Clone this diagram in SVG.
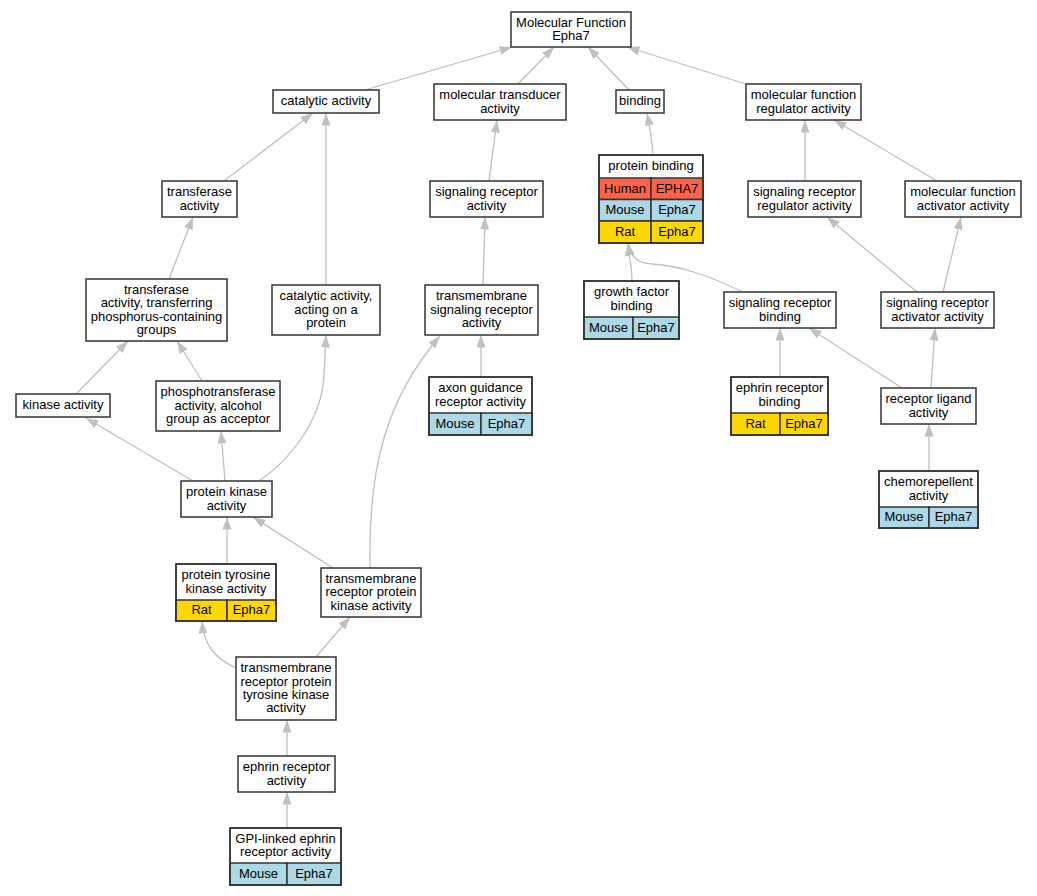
<svg xmlns="http://www.w3.org/2000/svg" width="1037" height="896" viewBox="0 0 1037 896">
<style>
.bx{fill:#fff;stroke:#333;stroke-width:1.5}
.ol{fill:none;stroke:#333;stroke-width:1.5}
.hu{fill:#ff6347;stroke:#333;stroke-width:1.5}
.mo{fill:#add8e6;stroke:#333;stroke-width:1.5}
.ra{fill:#ffd700;stroke:#333;stroke-width:1.5}
text{font-family:"Liberation Sans",Arial,sans-serif;font-size:13px;text-anchor:middle;fill:#000}
#edges path{fill:none;stroke:#c0c0c0;stroke-width:1.3;marker-end:url(#a)}
</style>
<defs>
<marker id="a" viewBox="0 0 12.5 9" refX="12.5" refY="4.5" markerWidth="12.5" markerHeight="9" markerUnits="userSpaceOnUse" orient="auto"><path d="M0,0 L12.5,4.5 L0,9 z" fill="#c0c0c0"/></marker>
</defs>
<rect width="1037" height="896" fill="#fff"/>
<g id="edges">
<path d="M365,90 L512,47"/>
<path d="M518,84 L554,47"/>
<path d="M629,90 L588,47"/>
<path d="M746,84 L627,47"/>
<path d="M224,181 L313,113"/>
<path d="M326,285 L326,113"/>
<path d="M489,181 L497,120"/>
<path d="M653,155 C652,140 650,128 647,113"/>
<path d="M805,181 L805,120"/>
<path d="M937,181 L834,120"/>
<path d="M169,279 L193,217"/>
<path d="M483,285 L485,217"/>
<path d="M632,281 C632,270 630,262 628,243"/>
<path d="M743,292 C705,274 680,266 652,264 C638,263 631,258 628,243"/>
<path d="M917,292 L827,217"/>
<path d="M943,292 L961,217"/>
<path d="M76,394 L128,341"/>
<path d="M202,381 L177,341"/>
<path d="M193,481 L86,418"/>
<path d="M225,481 L221,431"/>
<path d="M259,481 C290,460 322,420 324,375 L326,335"/>
<path d="M370,568 C368,470 385,400 440,336"/>
<path d="M481,377 L481,335"/>
<path d="M780,377 L780,328"/>
<path d="M902,388 L809,328"/>
<path d="M931,388 L935,328"/>
<path d="M929,471 L929,424"/>
<path d="M227,564 L227,517"/>
<path d="M333,568 L253,517"/>
<path d="M236,668 C214,658 204,645 202,621"/>
<path d="M316,657 L350,617"/>
<path d="M287,756 L287,720"/>
<path d="M287,828 L287,792"/>
</g>
<g id="n1"><rect class="bx" x="511" y="12" width="120" height="35"/><text x="571" y="26.6">Molecular Function</text><text x="571" y="40">Epha7</text></g>
<g id="n2"><rect class="bx" x="273" y="90" width="106" height="23"/><text x="326" y="105.3">catalytic activity</text></g>
<g id="n3"><rect class="bx" x="434" y="84" width="132" height="36"/><text x="500" y="99.1">molecular transducer</text><text x="500" y="112.5">activity</text></g>
<g id="n4"><rect class="bx" x="616" y="90" width="48" height="23"/><text x="640" y="105.3">binding</text></g>
<g id="n5"><rect class="bx" x="746" y="84" width="115" height="36"/><text x="803.5" y="99.1">molecular function</text><text x="803.5" y="112.5">regulator activity</text></g>
<g id="n6"><rect class="bx" x="162" y="181" width="75" height="36"/><text x="199.5" y="196.1">transferase</text><text x="199.5" y="209.5">activity</text></g>
<g id="n7"><rect class="bx" x="430" y="181" width="113" height="36"/><text x="486.5" y="196.1">signaling receptor</text><text x="486.5" y="209.5">activity</text></g>
<g id="n8"><rect class="bx" x="599" y="155" width="104" height="88"/><rect class="hu" x="599" y="178" width="52" height="21.5"/><rect class="hu" x="651" y="178" width="52" height="21.5"/><rect class="mo" x="599" y="199.5" width="52" height="21.5"/><rect class="mo" x="651" y="199.5" width="52" height="21.5"/><rect class="ra" x="599" y="221" width="52" height="22"/><rect class="ra" x="651" y="221" width="52" height="22"/><rect class="ol" x="599" y="155" width="104" height="88"/><text x="651" y="170.3">protein binding</text><text x="625" y="192.5">Human</text><text x="677" y="192.5">EPHA7</text><text x="625" y="214">Mouse</text><text x="677" y="214">Epha7</text><text x="625" y="235.8">Rat</text><text x="677" y="235.8">Epha7</text></g>
<g id="n9"><rect class="bx" x="748" y="181" width="113" height="36"/><text x="804.5" y="196.1">signaling receptor</text><text x="804.5" y="209.5">regulator activity</text></g>
<g id="n10"><rect class="bx" x="905" y="181" width="116" height="36"/><text x="963" y="196.1">molecular function</text><text x="963" y="209.5">activator activity</text></g>
<g id="n11"><rect class="bx" x="86" y="279" width="141" height="62"/><text x="156.5" y="293.7">transferase</text><text x="156.5" y="307.1">activity, transferring</text><text x="156.5" y="320.5">phosphorus-containing</text><text x="156.5" y="333.9">groups</text></g>
<g id="n12"><rect class="bx" x="272" y="285" width="108" height="50"/><text x="326" y="300.4">catalytic activity,</text><text x="326" y="313.8">acting on a</text><text x="326" y="327.2">protein</text></g>
<g id="n13"><rect class="bx" x="425" y="285" width="113" height="50"/><text x="481.5" y="300.4">transmembrane</text><text x="481.5" y="313.8">signaling receptor</text><text x="481.5" y="327.2">activity</text></g>
<g id="n14"><rect class="bx" x="584" y="281" width="95" height="58"/><rect class="mo" x="584" y="317" width="49" height="22"/><rect class="mo" x="633" y="317" width="46" height="22"/><rect class="ol" x="584" y="281" width="95" height="58"/><text x="631.5" y="296.1">growth factor</text><text x="631.5" y="309.5">binding</text><text x="608.5" y="331.8">Mouse</text><text x="656" y="331.8">Epha7</text></g>
<g id="n15"><rect class="bx" x="724" y="292" width="112" height="36"/><text x="780" y="307.1">signaling receptor</text><text x="780" y="320.5">binding</text></g>
<g id="n16"><rect class="bx" x="881" y="292" width="113" height="36"/><text x="937.5" y="307.1">signaling receptor</text><text x="937.5" y="320.5">activator activity</text></g>
<g id="n17"><rect class="bx" x="16" y="394" width="94" height="23"/><text x="63" y="409.3">kinase activity</text></g>
<g id="n18"><rect class="bx" x="156" y="381" width="124" height="50"/><text x="218" y="396.4">phosphotransferase</text><text x="218" y="409.8">activity, alcohol</text><text x="218" y="423.2">group as acceptor</text></g>
<g id="n19"><rect class="bx" x="429" y="377" width="103" height="58"/><rect class="mo" x="429" y="413" width="52" height="22"/><rect class="mo" x="481" y="413" width="51" height="22"/><rect class="ol" x="429" y="377" width="103" height="58"/><text x="480.5" y="392.1">axon guidance</text><text x="480.5" y="405.5">receptor activity</text><text x="455" y="427.8">Mouse</text><text x="506.5" y="427.8">Epha7</text></g>
<g id="n20"><rect class="bx" x="731" y="377" width="97" height="58"/><rect class="ra" x="731" y="413" width="49" height="22"/><rect class="ra" x="780" y="413" width="48" height="22"/><rect class="ol" x="731" y="377" width="97" height="58"/><text x="779.5" y="392.1">ephrin receptor</text><text x="779.5" y="405.5">binding</text><text x="755.5" y="427.8">Rat</text><text x="804" y="427.8">Epha7</text></g>
<g id="n21"><rect class="bx" x="881" y="388" width="95" height="36"/><text x="928.5" y="403.1">receptor ligand</text><text x="928.5" y="416.5">activity</text></g>
<g id="n22"><rect class="bx" x="181" y="481" width="91" height="36"/><text x="226.5" y="496.1">protein kinase</text><text x="226.5" y="509.5">activity</text></g>
<g id="n23"><rect class="bx" x="879" y="471" width="99" height="57"/><rect class="mo" x="879" y="507" width="50" height="21"/><rect class="mo" x="929" y="507" width="49" height="21"/><rect class="ol" x="879" y="471" width="99" height="57"/><text x="928.5" y="486.1">chemorepellent</text><text x="928.5" y="499.5">activity</text><text x="904" y="521.3">Mouse</text><text x="953.5" y="521.3">Epha7</text></g>
<g id="n24"><rect class="bx" x="176" y="564" width="100" height="57"/><rect class="ra" x="176" y="600" width="51" height="21"/><rect class="ra" x="227" y="600" width="49" height="21"/><rect class="ol" x="176" y="564" width="100" height="57"/><text x="226" y="579.1">protein tyrosine</text><text x="226" y="592.5">kinase activity</text><text x="201.5" y="614.3">Rat</text><text x="251.5" y="614.3">Epha7</text></g>
<g id="n25"><rect class="bx" x="321" y="568" width="100" height="49"/><text x="371" y="582.9">transmembrane</text><text x="371" y="596.3">receptor protein</text><text x="371" y="609.7">kinase activity</text></g>
<g id="n26"><rect class="bx" x="236" y="657" width="100" height="63"/><text x="286" y="672.2">transmembrane</text><text x="286" y="685.6">receptor protein</text><text x="286" y="699">tyrosine kinase</text><text x="286" y="712.4">activity</text></g>
<g id="n27"><rect class="bx" x="238" y="756" width="97" height="36"/><text x="286.5" y="771.1">ephrin receptor</text><text x="286.5" y="784.5">activity</text></g>
<g id="n28"><rect class="bx" x="230" y="828" width="111" height="57"/><rect class="mo" x="230" y="863" width="57" height="22"/><rect class="mo" x="287" y="863" width="54" height="22"/><rect class="ol" x="230" y="828" width="111" height="57"/><text x="285.5" y="842.6">GPI-linked ephrin</text><text x="285.5" y="856">receptor activity</text><text x="258.5" y="877.8">Mouse</text><text x="314" y="877.8">Epha7</text></g>
</svg>
